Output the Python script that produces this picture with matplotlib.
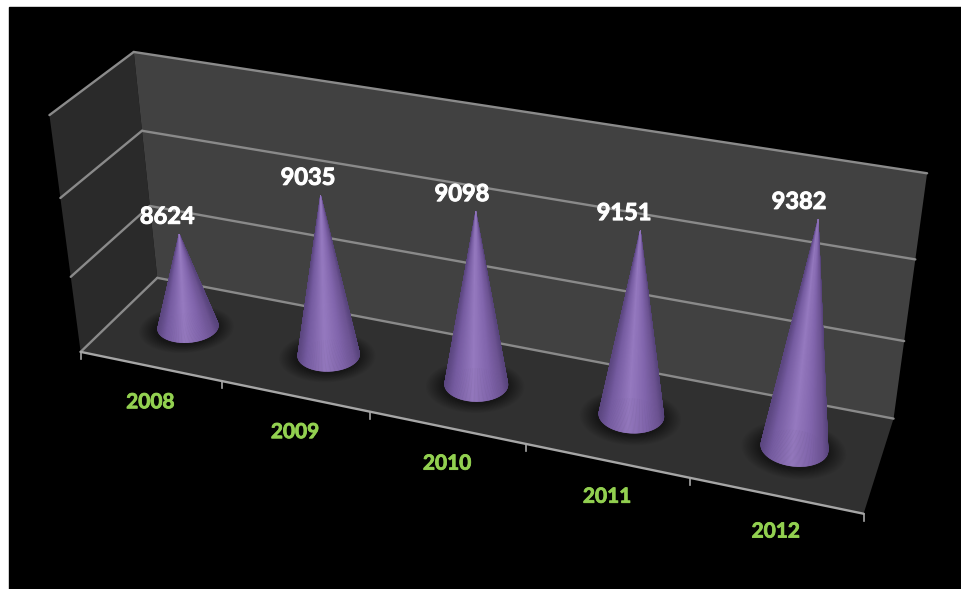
import matplotlib
matplotlib.use('Agg')
import matplotlib.patheffects as pe
import matplotlib.pyplot as plt
import numpy as np
from matplotlib.collections import PolyCollection
from matplotlib.colors import LinearSegmentedColormap
from matplotlib.patches import Polygon, Rectangle

categories = ['2008', '2009', '2010', '2011', '2012']
values = [8624, 9035, 9098, 9151, 9382]

# value axis range, split into three bands by the gridlines
value_min = 8000
value_max = 9500
bands = 3

# box coordinates (column, depth, height) and where they land on the canvas
camera_points = [
    ((0, 0, 0), (81, 352)), ((5, 0, 0), (864, 513)),
    ((0, 1, 0), (158, 277)), ((5, 1, 0), (893, 419)),
    ((0, 1, 1), (134, 52)), ((5, 1, 1), (927, 173)),
    ((0, 0, 1), (50, 115)), ((1, 0, 0), (222, 381)),
    ((2, 0, 0), (370, 412)), ((3, 0, 0), (526, 445)),
    ((4, 0, 0), (690, 477)), ((0, 1, 1 / 3), (149, 206)),
    ((0, 1, 2 / 3), (142, 131)), ((5, 1, 1 / 3), (905, 342)),
    ((5, 1, 2 / 3), (915, 259)), ((0, 0, 1 / 3), (70, 277)),
    ((0, 0, 2 / 3), (60, 198)),
]


def fit_camera(points):
    rows = []
    for (X, Y, Z), (px, py) in points:
        x, y = px / 1000, py / 1000
        rows.append([X, Y, Z, 1, 0, 0, 0, 0, -x * X, -x * Y, -x * Z, -x])
        rows.append([0, 0, 0, 0, X, Y, Z, 1, -y * X, -y * Y, -y * Z, -y])
    return np.linalg.svd(np.array(rows))[2][-1].reshape(3, 4)


camera = fit_camera(camera_points)


def project(u, d, h):
    u, d, h = np.broadcast_arrays(u, d, h)
    p = camera @ np.vstack([u.ravel(), d.ravel(), h.ravel(), np.ones(u.size)])
    return np.column_stack([p[0] / p[2], p[1] / p[2]]) * 1000


def line3d(ax, start, end, **kw):
    xy = project(*np.array([start, end]).T)
    ax.plot(xy[:, 0], xy[:, 1], solid_capstyle='round', **kw)


fig = plt.figure(figsize=(9.61, 5.89), dpi=100, facecolor='white')
ax = fig.add_axes([0, 0, 1, 1])
ax.set_xlim(0, 961)
ax.set_ylim(589, 0)
ax.axis('off')
ax.add_patch(Rectangle((9, 7), 952, 582, color='black', zorder=0))

# walls and floor
side = project([0, 0, 0, 0], [0, 1, 1, 0], [1, 1, 0, 0])
back = project([0, 5, 5, 0], [1, 1, 1, 1], [1, 1, 0, 0])
floor = project([0, 5, 5, 0], [0, 0, 1, 1], [0, 0, 0, 0])
ax.add_patch(Polygon(side, color='#2a2a2a', lw=0, zorder=1))
ax.add_patch(Polygon(back, color='#414141', lw=0, zorder=1))
floor_patch = Polygon(floor, color='#303030', lw=0, zorder=1)
ax.add_patch(floor_patch)

# gridlines run along the side wall and the back wall
grid_style = dict(color='#8a8a8a', lw=1.7, zorder=2)
for i in range(bands + 1):
    h = i / bands
    line3d(ax, (0, 0, h), (0, 1, h), **grid_style)
    line3d(ax, (0, 1, h), (5, 1, h), **grid_style)

# category axis with its tick marks
line3d(ax, (0, 0, 0), (5, 0, 0), color='#a6a6a6', lw=1.7, zorder=2)
for i in range(len(categories) + 1):
    x, y = project(i, 0, 0)[0]
    ax.plot([x, x], [y, y + 7], color='#a6a6a6', lw=1.2, zorder=2)

cone_cmap = LinearSegmentedColormap.from_list('cone', [
    (0.0, '#5b4680'), (0.14, '#765ca1'), (0.45, '#967ac0'),
    (0.72, '#8266ad'), (0.92, '#6c5392'), (1.0, '#58447c'),
])
radius_u = 0.197
radius_d = 0.19
angles = np.linspace(0, 2 * np.pi, 241)
label_stroke = [pe.withStroke(linewidth=0.7, foreground='white')]
year_stroke = [pe.withStroke(linewidth=0.6, foreground='#92d050')]

for i, (name, value) in enumerate(zip(categories, values)):
    u = i + 0.5
    d = 0.5
    h = (value - value_min) / (value_max - value_min)

    # soft shadow pooled around the foot of the cone
    for scale in np.linspace(1.55, 1.0, 14):
        blob = project(u + radius_u * scale * np.cos(angles),
                       d + radius_d * scale * np.sin(angles) - 0.02, 0)
        shadow = Polygon(blob, color='black', alpha=0.04, lw=0, zorder=3)
        ax.add_patch(shadow)
        shadow.set_clip_path(floor_patch)

    base = project(u + radius_u * np.cos(angles),
                   d + radius_d * np.sin(angles), 0)
    apex = project(u, d, h)[0]

    # fan of facets from the apex, back of the cone painted first
    mids = (base[:-1] + base[1:]) / 2
    shade = (mids[:, 0] - base[:, 0].min()) / np.ptp(base[:, 0])
    facets = [np.array([apex, base[k], base[k + 1]]) for k in range(len(mids))]
    order = np.argsort(mids[:, 1])
    ax.add_collection(PolyCollection(
        [facets[k] for k in order],
        facecolors=cone_cmap(shade[order]),
        edgecolors=cone_cmap(shade[order]),
        linewidths=0.4, zorder=4))

    ax.text(apex[0] - 12 - 0.45 * i * i, apex[1] - 18, str(value), color='white',
            family='Lato', weight='bold', fontsize=17, ha='center',
            va='center', zorder=6, path_effects=label_stroke)

    x, y = project(u, 0, 0)[0]
    ax.text(x, y + 36, name, color='#92d050', family='Lato',
            weight='bold', fontsize=15, ha='center', va='center', zorder=6,
            path_effects=year_stroke)

fig.savefig('out.png', dpi=100)
plt.close(fig)
